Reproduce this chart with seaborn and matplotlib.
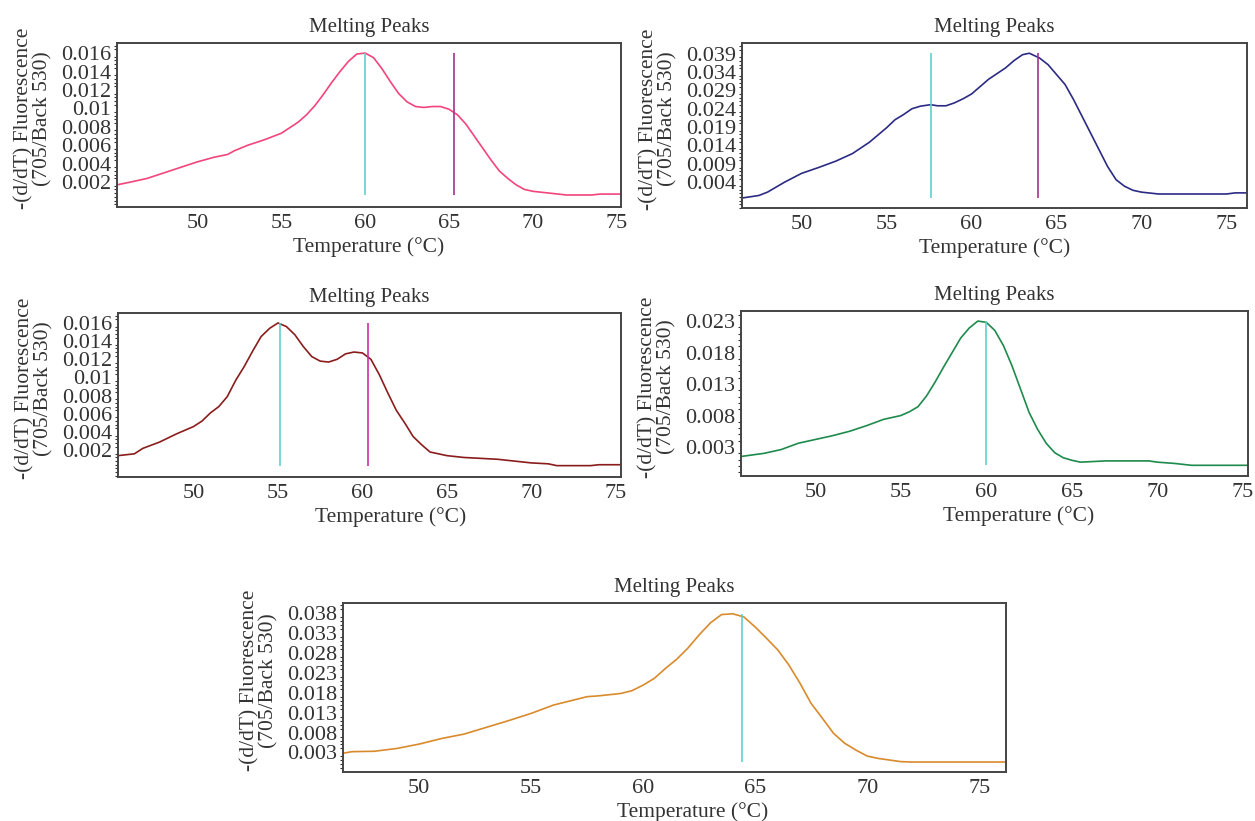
import numpy as np
import pandas as pd
import matplotlib
matplotlib.use("Agg")
import matplotlib.pyplot as plt
from matplotlib.ticker import AutoMinorLocator, FixedLocator
import seaborn as sns

# ------------------------------------------------------------------ #
# data

# panel 1 (pink, two peaks)
temp_1 = [45.2, 46, 47, 48, 49, 50, 51, 51.8, 52.2, 53, 54, 55, 56, 56.5, 57,
          57.5, 58, 58.5, 59, 59.5, 60, 60.5, 61, 61.5, 62, 62.5, 63, 63.5,
          64, 64.5, 65, 65.5, 66, 66.5, 67, 67.5, 68, 68.5, 69, 69.5, 70,
          70.5, 71, 71.5, 72, 73, 73.5, 74, 75.25]
peak_1 = [0.0017, 0.0020, 0.0024, 0.0030, 0.0036, 0.0042, 0.0047, 0.0050,
          0.0054, 0.0060, 0.0066, 0.0073, 0.0085, 0.0093, 0.0103, 0.0115,
          0.0128, 0.0140, 0.0151, 0.0159, 0.0160, 0.0155, 0.0143, 0.0129,
          0.0116, 0.0107, 0.0102, 0.0101, 0.0102, 0.0102, 0.0099, 0.0093,
          0.0083, 0.0070, 0.0057, 0.0044, 0.0032, 0.0024, 0.0017, 0.0012,
          0.0010, 0.0009, 0.0008, 0.0007, 0.0006, 0.0006, 0.0006, 0.0007,
          0.0007]
tm_1 = [60.0, 65.3]

# panel 2 (navy)
temp_2 = [46.5, 47.5, 48, 49, 50, 51, 52, 53, 54, 55, 55.5, 56, 56.5, 57,
          57.6, 58, 58.5, 59, 59.5, 60, 61, 62, 62.5, 63, 63.4, 64, 64.5,
          65, 65.5, 66, 67, 68, 68.5, 69, 69.5, 70, 71, 75, 75.5, 76.2]
peak_2 = [-0.0003, 0.0004, 0.0013, 0.0040, 0.0064, 0.0080, 0.0097, 0.0118,
          0.0149, 0.0188, 0.0210, 0.0224, 0.0240, 0.0247, 0.0251, 0.0248,
          0.0248, 0.0256, 0.0267, 0.0280, 0.0320, 0.0351, 0.0371, 0.0387,
          0.0391, 0.0378, 0.0360, 0.0333, 0.0306, 0.0265, 0.0174, 0.0083,
          0.0047, 0.0029, 0.0018, 0.0013, 0.0008, 0.0008, 0.0011, 0.0011]
tm_2 = [57.6, 63.9]

# panel 3 (dark red)
temp_3 = [45.53, 46.5, 47, 48, 49, 50, 50.5, 51, 51.5, 52, 52.5, 53, 53.5,
          54, 54.5, 55, 55.5, 56, 56.5, 57, 57.5, 58, 58.5, 59, 59.5, 60,
          60.5, 61, 61.5, 62, 62.5, 63, 63.5, 64, 65, 66, 67, 68, 69, 70,
          71, 71.5, 73.5, 74, 75.3]
peak_3 = [0.0014, 0.0016, 0.0022, 0.0029, 0.0038, 0.0046, 0.0052, 0.0061,
          0.0068, 0.0079, 0.0097, 0.0112, 0.0129, 0.0145, 0.0154, 0.0160,
          0.0156, 0.0147, 0.0134, 0.0123, 0.0118, 0.0117, 0.0120, 0.0126,
          0.0128, 0.0127, 0.0120, 0.0103, 0.0083, 0.0064, 0.0050, 0.0035,
          0.0026, 0.0018, 0.0014, 0.0012, 0.0011, 0.0010, 0.0008, 0.0006,
          0.0005, 0.0003, 0.0003, 0.0004, 0.0004]
tm_3 = [55.1, 60.3]

# panel 4 (green, single peak)
temp_4 = [45.65, 47, 48, 49, 50, 51, 52, 53, 54, 55, 55.5, 56, 56.5, 57,
          57.5, 58, 58.5, 59, 59.5, 60, 60.5, 61, 61.5, 62, 62.5, 63, 63.5,
          64, 64.5, 65, 65.5, 67, 69.5, 70, 71, 72, 75.3]
peak_4 = [0.0015, 0.0020, 0.0026, 0.0036, 0.0042, 0.0048, 0.0055, 0.0064,
          0.0074, 0.0080, 0.0086, 0.0094, 0.0111, 0.0133, 0.0157, 0.0180,
          0.0203, 0.0219, 0.0230, 0.0228, 0.0215, 0.0191, 0.0159, 0.0122,
          0.0085, 0.0058, 0.0036, 0.0021, 0.0013, 0.0009, 0.0006, 0.0008,
          0.0008, 0.0006, 0.0004, 0.0001, 0.0001]
tm_4 = [60.0]

# panel 5 (orange, single peak)
temp_5 = [46.6, 47, 48, 49, 50, 51, 52, 53, 54, 55, 56, 57, 57.5, 58, 59,
          59.5, 60, 60.5, 61, 61.5, 62, 62.5, 63, 63.5, 64, 64.5, 65, 65.5,
          66, 66.5, 67, 67.5, 68, 68.5, 69, 69.5, 70, 70.5, 71, 71.5, 72,
          76.2]
peak_5 = [0.0028, 0.0032, 0.0033, 0.0040, 0.0051, 0.0065, 0.0076, 0.0093,
          0.0110, 0.0128, 0.0149, 0.0163, 0.0170, 0.0172, 0.0178, 0.0185,
          0.0199, 0.0216, 0.0241, 0.0264, 0.0292, 0.0325, 0.0355, 0.0376,
          0.0378, 0.0370, 0.0345, 0.0317, 0.0288, 0.0250, 0.0204, 0.0153,
          0.0116, 0.0078, 0.0053, 0.0036, 0.0021, 0.0015, 0.0011, 0.0007,
          0.0006, 0.0006]
tm_5 = [64.4]

yticks_a = [0.002, 0.004, 0.006, 0.008, 0.01, 0.012, 0.014, 0.016]
yticks_2 = [0.004, 0.009, 0.014, 0.019, 0.024, 0.029, 0.034, 0.039]
yticks_4 = [0.003, 0.008, 0.013, 0.018, 0.023]
yticks_5 = [0.003, 0.008, 0.013, 0.018, 0.023, 0.028, 0.033, 0.038]
xticks = [50, 55, 60, 65, 70, 75]

# ------------------------------------------------------------------ #

sns.set_style("white")
plt.rcParams['font.family'] = ['Liberation Serif', 'DejaVu Serif']

TXT = '#333333'
CYAN = '#5fcfd0'


def melting_panel(ax, temp, peak, tm, line_color, tm_colors, xlim, ylim,
                  yticks, xlabel_x=0.5):
    df = pd.DataFrame({'temp': temp, 'peak': peak})
    sns.lineplot(data=df, x='temp', y='peak', ax=ax, color=line_color,
                 linewidth=1.2, estimator=None, sort=False)
    lo, hi = min(peak), max(peak)
    for t, c in zip(tm, tm_colors):
        ax.vlines(t, lo, hi, color=c, linewidth=1.2)
    ax.set_xlim(*xlim)
    ax.set_ylim(*ylim)
    ax.set_xticks(xticks)
    ax.set_xticklabels([str(v) for v in xticks])
    ax.yaxis.set_major_locator(FixedLocator(yticks))
    ax.set_yticklabels([f"{v:g}" for v in yticks])
    ax.yaxis.set_minor_locator(AutoMinorLocator(5))
    ax.tick_params(axis='x', direction='in', length=5, width=1,
                   labelsize=16, colors=TXT, pad=5)
    ax.tick_params(axis='y', which='major', direction='out', length=3.5,
                   width=1, labelsize=16, colors=TXT, pad=0.5)
    ax.tick_params(axis='y', which='minor', direction='out', length=2,
                   width=0.8, colors=TXT, left=True)
    for s in ax.spines.values():
        s.set_visible(True)
        s.set_color('#444444')
        s.set_linewidth(1.4)
    ax.set_title("Melting Peaks", fontsize=15, color=TXT, pad=8)
    ax.set_xlabel("Temperature (°C)", fontsize=15.5, color=TXT, labelpad=3)
    ax.xaxis.label.set_x(xlabel_x)
    ax.set_ylabel("-(d/dT) Fluorescence\n(705/Back 530)", fontsize=15.5,
                  color=TXT, labelpad=6, linespacing=1.0)
    ax.yaxis.label.set_y(0.54)


fig = plt.figure(figsize=(12.55, 8.21), dpi=100)

ax1 = fig.add_axes([0.0932, 0.7479, 0.4016, 0.1998])
ax2 = fig.add_axes([0.5912, 0.7467, 0.4024, 0.2010])
ax3 = fig.add_axes([0.0940, 0.4190, 0.4008, 0.1998])
ax4 = fig.add_axes([0.5904, 0.4202, 0.4040, 0.2010])
ax5 = fig.add_axes([0.2733, 0.0597, 0.5283, 0.2058])

melting_panel(ax1, temp_1, peak_1, tm_1, '#f2457c', [CYAN, '#a2338c'],
              (45.2, 75.25), (-0.0007, 0.0171), yticks_a)
melting_panel(ax2, temp_2, peak_2, tm_2, '#2b2b85', [CYAN, '#a2338c'],
              (46.5, 76.2), (-0.0030, 0.0419), yticks_2)
melting_panel(ax3, temp_3, peak_3, tm_3, '#8b1c1c', [CYAN, '#cc2fa8'],
              (45.53, 75.3), (-0.00095, 0.0171), yticks_a, xlabel_x=0.543)
melting_panel(ax4, temp_4, peak_4, tm_4, '#1e8a4c', [CYAN],
              (45.65, 75.3), (-0.0016, 0.0246), yticks_4, xlabel_x=0.548)
melting_panel(ax5, temp_5, peak_5, tm_5, '#d98a2b', [CYAN],
              (46.6, 76.2), (-0.0019, 0.0405), yticks_5, xlabel_x=0.528)

fig.savefig("out.png", dpi=100)
